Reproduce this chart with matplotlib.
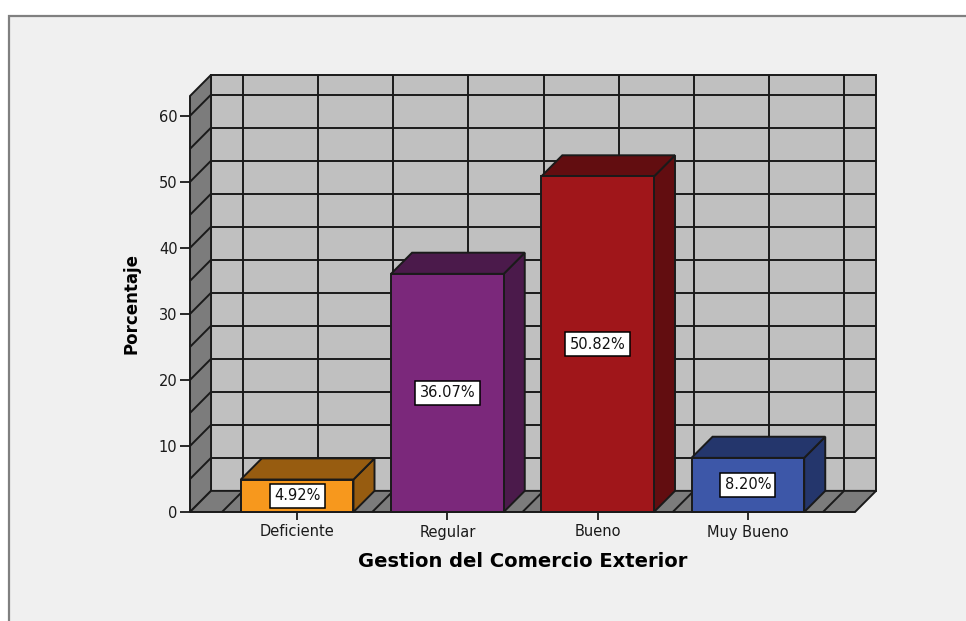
import matplotlib.pyplot as plt
from matplotlib.patches import Polygon, Rectangle

categories = ["Deficiente", "Regular", "Bueno", "Muy Bueno"]
percentages = [4.92, 36.07, 50.82, 8.20]
labels = ["4.92%", "36.07%", "50.82%", "8.20%"]
front_colors = ["#f7981d", "#7b287b", "#a0161a", "#3d57a8"]
top_colors = ["#975c10", "#4b1a4b", "#620d10", "#24366c"]
y_ticks = [0, 10, 20, 30, 40, 50, 60]

# box extents and the depth offset of the 3D walls, in data units
X0, X1 = -0.713, 3.713
YTOP = 63
DX, DY = 0.14, 3.2
HALF = 0.375
EDGE = "#1a1a1a"
LW = 1.4
FONT = "DejaVu Sans"

fig = plt.figure(figsize=(9.66, 6.21), dpi=100)
fig.patch.set_facecolor("white")
frame = Rectangle((9 / 966, -0.1), 1.0, (621 - 16) / 621 + 0.1,
                  transform=fig.transFigure, facecolor="#f0f0f0",
                  edgecolor="#808080", linewidth=1.6, zorder=-10)
fig.patches.append(frame)

ax = fig.add_axes([190 / 966, (621 - 512) / 621, 665 / 966, 416 / 621])
ax.set_zorder(5)
ax.set_xlim(X0, X1)
ax.set_ylim(0, YTOP)
ax.patch.set_alpha(0)
for s in ax.spines.values():
    s.set_visible(False)


def poly(pts, fc, z):
    ax.add_patch(Polygon(pts, closed=True, facecolor=fc, edgecolor=EDGE,
                         linewidth=LW, zorder=z, clip_on=False))


def line(xs, ys, z=2):
    ax.plot(xs, ys, color=EDGE, linewidth=LW, zorder=z, clip_on=False,
            solid_capstyle="butt")


# back wall, left wall and floor
poly([(X0 + DX, DY), (X1 + DX, DY), (X1 + DX, YTOP + DY), (X0 + DX, YTOP + DY)], "#c0c0c0", 1)
poly([(X0, 0), (X0 + DX, DY), (X0 + DX, YTOP + DY), (X0, YTOP)], "#7c7c7c", 1)
poly([(X0, 0), (X1, 0), (X1 + DX, DY), (X0 + DX, DY)], "#7c7c7c", 1)

# grid on the walls every 5 units and every half category
for g in range(5, 61, 5):
    line([X0 + DX, X1 + DX], [g + DY, g + DY])
    line([X0, X0 + DX], [g, g + DY])
for k in range(9):
    gx = -0.5 + 0.5 * k
    line([gx + DX, gx + DX], [DY, YTOP + DY])
    line([gx, gx + DX], [0, DY])

# 3D bars
for i, (v, fc, tc, lab) in enumerate(zip(percentages, front_colors, top_colors, labels)):
    left, right = i - HALF, i + HALF
    z = 3 + i
    poly([(right, 0), (right + DX, DY), (right + DX, v + DY), (right, v)], tc, z)
    poly([(left, v), (right, v), (right + DX, v + DY), (left + DX, v + DY)], tc, z)
    poly([(left, 0), (right, 0), (right, v), (left, v)], fc, z)
    ax.text(i, v / 2, lab, ha="center", va="center", fontsize=10.5,
            family=FONT, color="#111111", zorder=10,
            bbox=dict(boxstyle="square,pad=0.3", facecolor="white",
                      edgecolor="black", linewidth=1.1))

ax.set_yticks(y_ticks)
ax.set_xticks(range(len(categories)))
ax.set_xticklabels(categories)
ax.tick_params(axis="y", length=7, width=1.3, direction="out", pad=2,
               labelsize=10.5, colors="#1a1a1a")
ax.tick_params(axis="x", length=6, width=1.3, direction="out", pad=3,
               labelsize=10.5, colors="#1a1a1a")
for t in ax.get_xticklabels() + ax.get_yticklabels():
    t.set_family(FONT)

ax.set_ylabel("Porcentaje", fontsize=12, fontweight="bold",
              family=FONT, labelpad=13)
ax.set_xlabel("Gestion del Comercio Exterior", fontsize=14, fontweight="bold",
              family=FONT, labelpad=9)

fig.savefig("out.png", dpi=100, facecolor=fig.get_facecolor())
